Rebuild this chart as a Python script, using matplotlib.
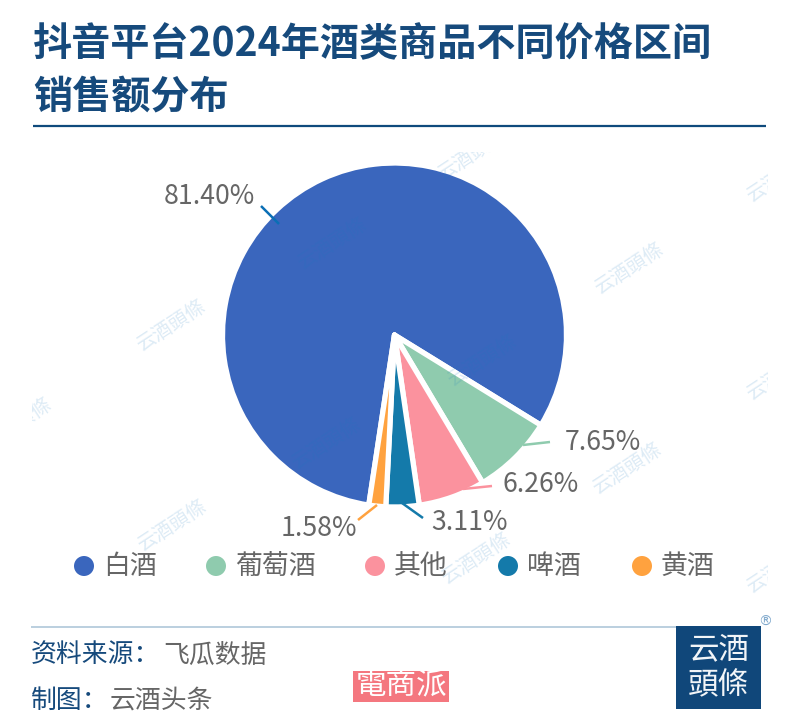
import matplotlib
matplotlib.use("Agg")
import matplotlib.pyplot as plt
from matplotlib.patches import Rectangle, Circle
from matplotlib.transforms import Bbox

plt.rcParams["font.family"] = ["Noto Sans CJK SC", "DejaVu Sans"]

title_lines = ["抖音平台2024年酒类商品不同价格区间", "销售额分布"]
categories = ["白酒", "葡萄酒", "其他", "啤酒", "黄酒"]
shares = [81.40, 7.65, 6.26, 3.11, 1.58]
share_labels = ["81.40%", "7.65%", "6.26%", "3.11%", "1.58%"]
slice_colors = ["#3A66BD", "#8FCBAE", "#FB929E", "#147AAA", "#FFA23F"]
line_colors = ["#0A6FB5", "#8FCBAE", "#FB929E", "#147AAA", "#FFA23F"]

# style
NAVY = "#164A7C"
GREY = "#666666"
RULE = "#B5CBDC"
W, H = 800, 724

fig = plt.figure(figsize=(W / 100, H / 100), dpi=100)
ax = fig.add_axes([0, 0, 1, 1])


def py(y):  # picture y (from the top) to axes y
    return H - y


wedges, _ = ax.pie(shares, colors=slice_colors, startangle=261.4, counterclock=False,
                   center=(394.5, py(335)), radius=172, frame=True,
                   wedgeprops=dict(edgecolor="white", linewidth=3.8, joinstyle="round"))
ax.set_xlim(0, W)
ax.set_ylim(0, H)
ax.set_aspect("equal")
ax.axis("off")

# title
ax.text(33, py(45), title_lines[0], fontsize=28.2, fontweight="bold", color=NAVY, va="center")
ax.text(33, py(97), title_lines[1], fontsize=28.2, fontweight="bold", color=NAVY, va="center")
ax.plot([33, 766], [py(126), py(126)], color="#0F4A7C", linewidth=1.6, solid_capstyle="butt")

# value labels with leader lines
label_pos = [(255, 197, "right"), (565, 443, "left"), (502, 484, "left"), (431, 522, "left"), (357, 528, "right")]
leaders = [((279, 224), (261, 206)), ((523, 445), (550, 442)), ((463, 489), (492, 486)),
           ((402, 503), (423, 518)), ((377, 505), (358, 520))]
for txt, (x, y, ha), (p0, p1), c in zip(share_labels, label_pos, leaders, line_colors):
    ax.text(x, py(y), txt, fontsize=19.2, color=GREY, ha=ha, va="center")
    ax.plot([p0[0], p1[0]], [py(p0[1]), py(p1[1])], color=c, linewidth=1.8, solid_capstyle="butt")

# legend
legend_x = [84, 216, 375, 508, 642]
for name, x, c in zip(categories, legend_x, slice_colors):
    ax.add_patch(Circle((x, py(566)), 10, facecolor=c, edgecolor="none"))
    ax.text(x + 19, py(566), name, fontsize=19.4, color=GREY, va="center")

# footer
ax.plot([31, 676], [py(627), py(627)], color=RULE, linewidth=1.3, solid_capstyle="butt")
ax.text(31, py(655), "资料来源：", fontsize=18.6, color=NAVY, va="center")
ax.text(163, py(655), "飞瓜数据", fontsize=18.6, color=GREY, va="center")
ax.text(31, py(700), "制图：", fontsize=18.6, color=NAVY, va="center")
ax.text(110, py(700), "云酒头条", fontsize=18.6, color=GREY, va="center")

# logo
ax.add_patch(Rectangle((676, py(709)), 85, 83, facecolor="#10477A", edgecolor="none", zorder=3))
for txt, y in [("云酒", 650), ("頭條", 686)]:
    ax.text(718.5, py(y), txt, fontsize=22, color="#F2F5F8", ha="center", va="center", zorder=4,
            family=["Noto Sans CJK TC", "DejaVu Sans"])
ax.text(765, py(622), "®", fontsize=10, color="#7FA8CC", ha="center", va="center", family="DejaVu Sans")

# stamp
ax.add_patch(Rectangle((353, py(702)), 96, 31, facecolor="#F4777F", edgecolor="none", zorder=3))
ax.text(401, py(686), "電商派", fontsize=22, color="white", ha="center", va="center",
        zorder=4, family=["Noto Sans CJK TC", "DejaVu Sans"])

# watermarks, clipped to the chart area
wm_pos = [(172, 325), (333, 243), (483, 360), (327, 443), (630, 268), (473, 154), (782, 176), (18, 423),
          (628, 468), (782, 374), (173, 525), (477, 558), (782, 567)]
clip = Bbox.from_extents(32, py(594), 768, py(152))
for x, y in wm_pos:
    t = ax.text(x, py(y), "云酒頭條", fontsize=14, color="#1A7AC0", alpha=0.15, rotation=33,
                ha="center", va="center", zorder=5, family=["Noto Sans CJK TC", "DejaVu Sans"])
    t.set_clip_box(clip)
    t.set_clip_on(True)

fig.savefig("out.png", dpi=100, facecolor="white")
